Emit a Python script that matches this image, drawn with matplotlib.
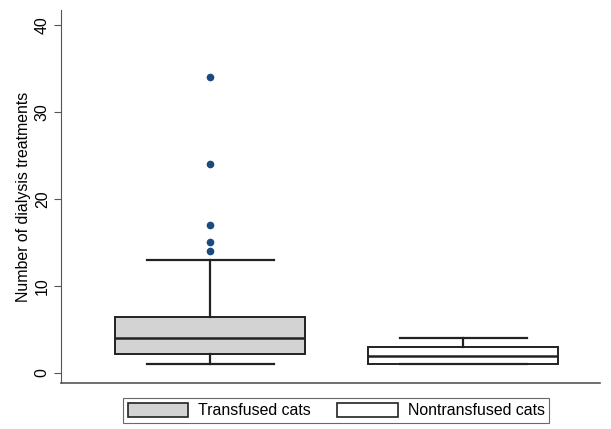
import matplotlib
matplotlib.use('Agg')
import matplotlib.pyplot as plt
from matplotlib.patches import Patch

plt.rcParams['font.family'] = ['Liberation Sans', 'DejaVu Sans']

# box summary values
groups = ['Transfused cats', 'Nontransfused cats']
q1 = [2.2, 1.0]
med = [4.0, 2.0]
q3 = [6.4, 3.0]
whislo = [1.0, 1.0]
whishi = [13.0, 4.0]
outliers = [[34, 24, 17, 15, 14], []]
fills = ['#d3d3d3', 'white']

stats = []
for i in range(len(groups)):
    stats.append({'label': groups[i], 'q1': q1[i], 'med': med[i], 'q3': q3[i],
                  'whislo': whislo[i], 'whishi': whishi[i], 'fliers': outliers[i]})

fig = plt.figure(figsize=(6.11, 4.29), dpi=100)
ax = fig.add_axes([0.0998, 0.1072, 0.882, 0.8695])

bp = ax.bxp(stats, positions=[1, 2], widths=0.75, patch_artist=True,
            capwidths=0.5,
            boxprops=dict(edgecolor='#222222', linewidth=1.4),
            medianprops=dict(color='#222222', linewidth=1.8),
            whiskerprops=dict(color='#222222', linewidth=1.6),
            capprops=dict(color='#222222', linewidth=1.6),
            flierprops=dict(marker='o', markerfacecolor='#1b4b7e', markeredgecolor='#1b4b7e',
                            markersize=4.5))
for p, c in zip(bp['boxes'], fills):
    p.set_facecolor(c)

ax.set_xlim(0.41, 2.54)
ax.set_ylim(-1.15, 41.7)
ax.set_yticks([0, 10, 20, 30, 40])
ax.set_xticks([])
ax.tick_params(axis='y', labelsize=11.4, length=5, color='#555555', labelrotation=90, pad=3)
for t in ax.get_yticklabels():
    t.set_va('center')
ax.set_ylabel('Number of dialysis treatments', fontsize=11.4, labelpad=3)
ax.spines['top'].set_visible(False)
ax.spines['right'].set_visible(False)
ax.spines['left'].set_color('#555555')
ax.spines['bottom'].set_color('#555555')
ax.spines['bottom'].set_linewidth(1.2)

handles = [Patch(facecolor=c, edgecolor='#222222', linewidth=1.2) for c in fills]
leg = fig.legend(handles, groups, loc='lower center', bbox_to_anchor=(0.55, -0.005), ncol=2,
                 fontsize=11.4, frameon=True, fancybox=False, edgecolor='#444444',
                 handlelength=3.8, handleheight=1.0, columnspacing=1.7,
                 borderpad=0.3, handletextpad=0.63)
leg.get_frame().set_linewidth(0.8)

fig.savefig('out.png', dpi=100)
